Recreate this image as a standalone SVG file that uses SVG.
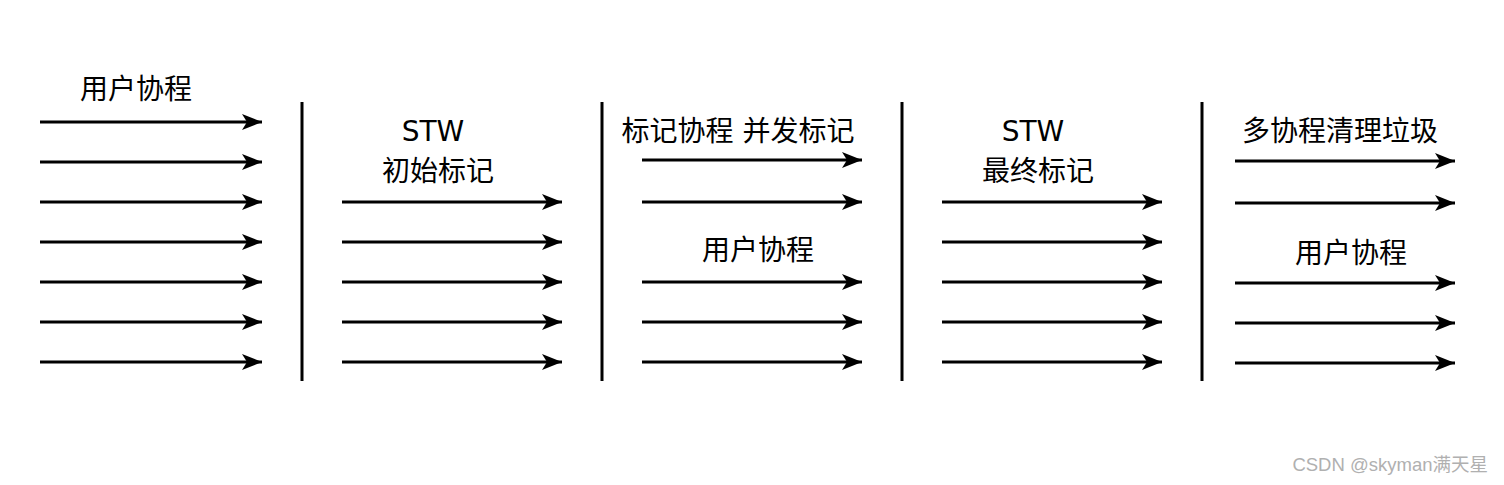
<svg xmlns="http://www.w3.org/2000/svg" width="1504" height="485" viewBox="0 0 1504 485">
<style>
.a{stroke:#000;stroke-width:2.8;fill:none;marker-end:url(#ah)}
.v{stroke:#000;stroke-width:3}
.t{font-family:"DejaVu Sans","Noto Sans CJK SC",sans-serif;font-size:28px;fill:#000;text-anchor:middle;dominant-baseline:central}
.w{font-family:"Liberation Sans","Noto Sans CJK SC",sans-serif;font-size:18.5px;fill:#b0b0b0;text-anchor:end}
</style>
<defs>
<marker id="ah" markerUnits="userSpaceOnUse" markerWidth="22" markerHeight="16" refX="20" refY="8" orient="auto" viewBox="0 0 22 16">
<path d="M0,0 L20,8 L0,16 L5,8 Z" fill="#000"/>
</marker>
</defs>
<rect width="1504" height="485" fill="#fff"/>
<g id="connectors">
<path class="a" d="M40,122H262"/><path class="a" d="M40,162H262"/><path class="a" d="M40,202H262"/><path class="a" d="M40,242H262"/><path class="a" d="M40,282H262"/><path class="a" d="M40,322H262"/><path class="a" d="M40,362H262"/>
<path class="a" d="M342,202H562"/><path class="a" d="M342,242H562"/><path class="a" d="M342,282H562"/><path class="a" d="M342,322H562"/><path class="a" d="M342,362H562"/>
<path class="a" d="M642,160H862"/><path class="a" d="M642,202H862"/><path class="a" d="M642,282H862"/><path class="a" d="M642,322H862"/><path class="a" d="M642,362H862"/>
<path class="a" d="M942,202H1162"/><path class="a" d="M942,242H1162"/><path class="a" d="M942,282H1162"/><path class="a" d="M942,322H1162"/><path class="a" d="M942,362H1162"/>
<path class="a" d="M1235,161H1455"/><path class="a" d="M1235,203H1455"/><path class="a" d="M1235,283H1455"/><path class="a" d="M1235,323H1455"/><path class="a" d="M1235,363H1455"/>
</g>
<g id="dividers">
<line class="v" x1="302" y1="102" x2="302" y2="381"/>
<line class="v" x1="602" y1="102" x2="602" y2="381"/>
<line class="v" x1="902" y1="102" x2="902" y2="381"/>
<line class="v" x1="1202" y1="102" x2="1202" y2="381"/>
</g>
<g id="n1"><text class="t" x="136" y="89">用户协程</text></g>
<g id="n2"><text class="t" x="433" y="131">STW</text><text class="t" x="438" y="171">初始标记</text></g>
<g id="n3"><text class="t" x="738" y="131">标记协程 并发标记</text><text class="t" x="758" y="250">用户协程</text></g>
<g id="n4"><text class="t" x="1033" y="131">STW</text><text class="t" x="1038" y="171">最终标记</text></g>
<g id="n5"><text class="t" x="1340" y="131">多协程清理垃圾</text><text class="t" x="1351" y="253">用户协程</text></g>
<text class="w" x="1488" y="471">CSDN @skyman满天星</text>
</svg>
